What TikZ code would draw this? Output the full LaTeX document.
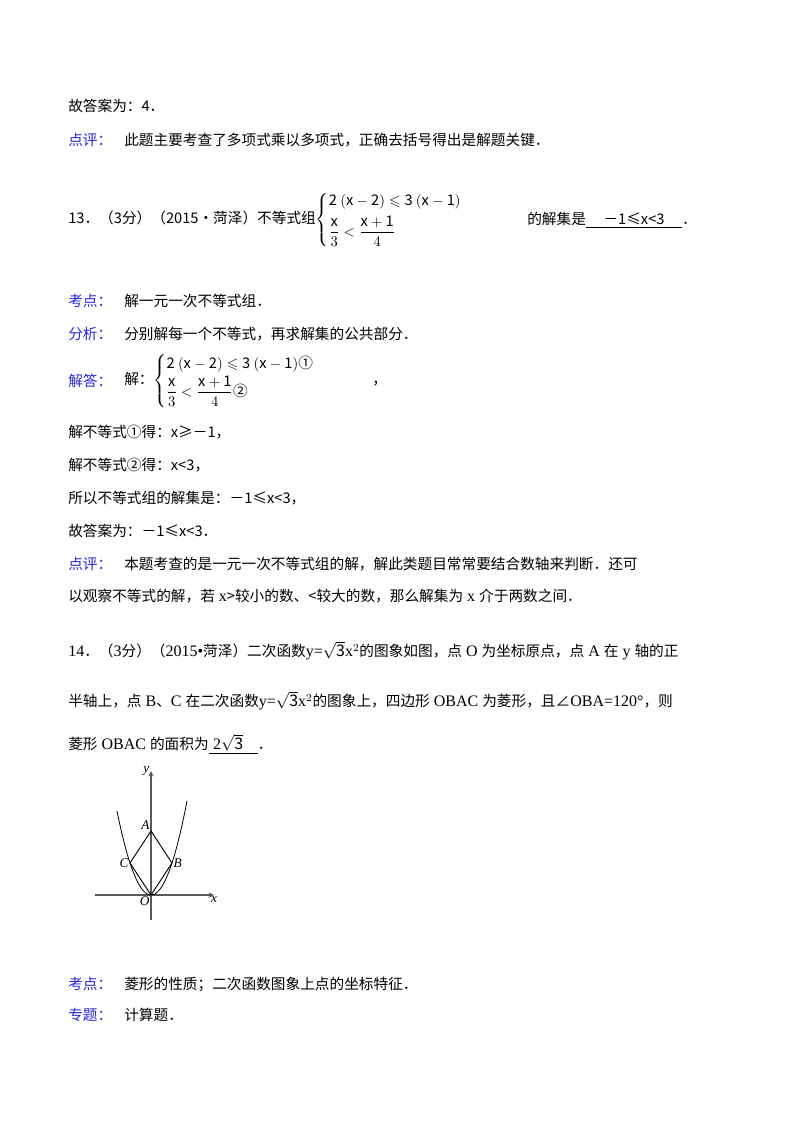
\documentclass[tikz,border=0pt]{standalone}
\usepackage{amsmath,amssymb}
\usepackage{fontspec}
\setmainfont{Noto Sans CJK SC}
\newfontfamily\lat{Liberation Serif}
\newcommand{\lt}[1]{{\lat\fontsize{12}{14}\selectfont #1}}
\definecolor{lbl}{RGB}{40,40,220}
\begin{document}
\begin{tikzpicture}[x=0.75pt,y=-0.75pt,
  t/.style={anchor=west,inner sep=0pt,font=\fontsize{11}{14}\selectfont},
  lb/.style={t,text=lbl},
  pt/.style={font=\lat\itshape\fontsize{10}{12}\selectfont,inner sep=1pt}]
\useasboundingbox[fill=white] (0,0) rectangle (800,1132);
\node[t] (l1) at (68,106) {故答案为：4．};
\node[lb] (l2) at (68,140) {点评：};
\node[t] at (124,140) {此题主要考查了多项式乘以多项式，正确去括号得出是解题关键．};
\node[t] (q13) at (68,220) {13．（3分）（2015•菏泽）不等式组$\left\{\renewcommand{\arraystretch}{0.9}\begin{array}{@{}l@{}}\mathrm{2\ (x-2)\leqslant 3\ (x-1)}\\[4pt] \dfrac{\mathrm x}{3}<\dfrac{\mathrm{x+1}}{4}\end{array}\right.$};
\node[t] at (527,220) {的解集是\underline{\hspace{1.2em}－1≤x<3\hspace{1.2em}}．};
\node[lb] at (68,301) {考点：};
\node[t] at (124,301) {解一元一次不等式组．};
\node[lb] at (68,334) {分析：};
\node[t] at (124,334) {分别解每一个不等式，再求解集的公共部分．};
\node[lb] at (68,381) {解答：};
\node[t] at (124,381) {解：$\left\{\renewcommand{\arraystretch}{0.85}\begin{array}{@{}l@{}}\mathrm{2\ (x-2)\leqslant 3\ (x-1)}\text{①}\\[2pt] \dfrac{\mathrm x}{3}<\dfrac{\mathrm{x+1}}{4}\text{②}\end{array}\right.$};
\node[t] at (372,384) {，};
\node[t] at (68,432) {解不等式①得：x≥－1，};
\node[t] at (68,465) {解不等式②得：x<3，};
\node[t] at (68,498) {所以不等式组的解集是：－1≤x<3，};
\node[t] at (68,531) {故答案为：－1≤x<3．};
\node[lb] at (68,564) {点评：};
\node[t] at (124,564) {本题考查的是一元一次不等式组的解，解此类题目常常要结合数轴来判断．还可};
\node[t] at (68,596) {以观察不等式的解，若\lt{ x}>较小的数、<较大的数，那么解集为\lt{ x }介于两数之间．};
\node[t] at (68,651) {\lt{14}．（\lt{3}分）（\lt{2015•}菏泽）二次函数\lt{y=$\sqrt{\mathrm 3}$x$^2$}的图象如图，点\lt{ O }为坐标原点，点\lt{ A }在\lt{ y }轴的正};
\node[t] at (68,701) {半轴上，点\lt{ B}、\lt{C }在二次函数\lt{y=$\sqrt{\mathrm 3}$x$^2$}的图象上，四边形\lt{ OBAC }为菱形，且∠\lt{OBA=120°}，则};
\node[t] at (68,744) {菱形\lt{ OBAC }的面积为\underline{\hspace{0.3em}\lt{2$\sqrt{\mathrm 3}$}\hspace{1em}}．};
% figure
\coordinate (O) at (151,895);
\coordinate (A) at (151,831);
\coordinate (B) at (172,863);
\coordinate (C) at (130,863);
\coordinate (xs) at (95,895);\coordinate (xe) at (214,895);
\coordinate (ys) at (151,920);\coordinate (ye) at (151,771);
\draw[gray!70!black,line width=0.8pt,-stealth] (xs) -- (xe);
\draw[gray!70!black,line width=0.8pt,-stealth] (ys) -- (ye);
\draw[line width=0.6pt,domain=-34:36,samples=60] plot ({151+\x},{895-0.0726*\x*\x});
\draw[line width=0.7pt] (O) -- (B) -- (A) -- (C) -- (O);
\node[pt,above left] at (A) {A};
\node[pt,right] at (B) {B};
\node[pt,left] at (C) {C};
\node[pt,below left] at (O) {O};
\node[pt,below] at (xe) {x};
\node[pt,left] at (ye) {y};
\node[lb] at (68,984) {考点：};
\node[t] at (124,984) {菱形的性质；二次函数图象上点的坐标特征．};
\node[lb] at (68,1015) {专题：};
\node[t] at (124,1015) {计算题．};
\end{tikzpicture}
\end{document}
